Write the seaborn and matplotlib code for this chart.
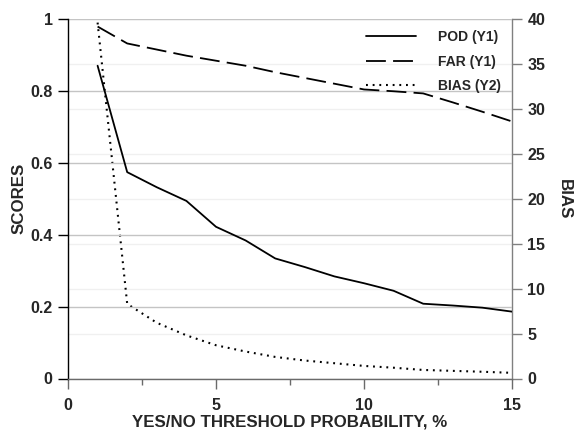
import numpy as np
import pandas as pd
import matplotlib
matplotlib.use("Agg")
import matplotlib.pyplot as plt
import seaborn as sns

# ---- data ----
threshold = [1, 2, 3, 4, 5, 6, 7, 8, 9, 10, 11, 12, 13, 14, 15]
pod = [0.870, 0.574, 0.532, 0.494, 0.422, 0.384, 0.334, 0.310, 0.284, 0.265,
       0.244, 0.208, 0.203, 0.197, 0.186]
far = [0.979, 0.932, 0.915, 0.898, 0.884, 0.870, 0.852, 0.836, 0.820, 0.804,
       0.799, 0.793, 0.768, 0.742, 0.715]
bias = [39.6, 8.3, 6.2, 4.8, 3.7, 3.0, 2.4, 2.0, 1.7, 1.4, 1.2, 0.95, 0.85, 0.75, 0.63]

x_ticks = [0, 5, 10, 15]
y1_ticks = [0, 0.2, 0.4, 0.6, 0.8, 1.0]
y1_labels = ["0", "0.2", "0.4", "0.6", "0.8", "1"]
y2_ticks = [0, 5, 10, 15, 20, 25, 30, 35, 40]

df = pd.DataFrame({"x": threshold, "POD": pod, "FAR": far, "BIAS": bias})

sns.set_style("white")
plt.rcParams["font.family"] = ["Liberation Sans", "DejaVu Sans"]
plt.rcParams["font.weight"] = "bold"

fig = plt.figure(figsize=(5.76, 4.33), dpi=100)
ax = fig.add_axes([68/576, 1-378.5/433, (512-68)/576, (378.5-19)/433])
ax2 = ax.twinx()
ax.set_zorder(ax2.get_zorder() + 1)
ax.patch.set_visible(False)

lw = 1.3
sns.lineplot(data=df, x="x", y="POD", ax=ax, color="black", lw=lw,
             label="POD (Y1)", legend=False)
sns.lineplot(data=df, x="x", y="FAR", ax=ax, color="black", lw=lw,
             label="FAR (Y1)", legend=False)
ax.lines[1].set_dashes((11, 4))
sns.lineplot(data=df, x="x", y="BIAS", ax=ax2, color="black", lw=1.5,
             label="BIAS (Y2)", legend=False)
ax2.lines[0].set_dashes((0.9, 2.3))

ax.set_xlim(0, 15)
ax.set_ylim(0, 1)
ax2.set_ylim(0, 40)

ax.set_xticks(x_ticks)
ax.set_xticks([2.5, 7.5, 12.5], minor=True)
ax.set_yticks(y1_ticks)
ax.set_yticklabels(y1_labels)
ax2.set_yticks(y2_ticks)

# grids
ax.yaxis.grid(True, color="#c4c4c4", lw=1.0)
ax.xaxis.grid(False)
ax2.yaxis.grid(True, color="#f0f0f0", lw=1.0)
ax2.xaxis.grid(False)

# spines
for a in (ax, ax2):
    a.spines["top"].set_visible(False)
ax.spines["left"].set_color("black")
ax.spines["left"].set_linewidth(1.0)
ax.spines["right"].set_visible(False)
ax.spines["bottom"].set_color("#6a6a6a")
ax.spines["bottom"].set_linewidth(1.0)
ax2.spines["left"].set_visible(False)
ax2.spines["bottom"].set_visible(False)
ax2.spines["right"].set_color("#808080")
ax2.spines["right"].set_linewidth(1.0)

ax.tick_params(axis="y", which="major", left=True, direction="out", length=7,
               width=1.0, color="black", labelsize=11.5, pad=4)
ax.tick_params(axis="x", which="major", bottom=True, direction="out", length=7,
               width=1.0, color="#6a6a6a", labelsize=11.5, pad=7)
ax.tick_params(axis="x", which="minor", bottom=True, direction="out", length=4,
               width=1.0, color="#6a6a6a")
ax2.tick_params(axis="y", right=True, direction="out", length=7, width=1.0,
                color="#808080", labelsize=11.5, pad=4)
for lab in ax.get_xticklabels() + ax.get_yticklabels() + ax2.get_yticklabels():
    lab.set_fontweight("bold")

ax.set_xlabel("YES/NO THRESHOLD PROBABILITY, %", fontsize=12.2, fontweight="bold", labelpad=1)
ax.set_ylabel("SCORES", fontsize=12.2, fontweight="bold", labelpad=2.5)
ax2.set_ylabel("BIAS", fontsize=12.2, fontweight="bold", rotation=270, labelpad=19)

handles = ax.lines[:2] + ax2.lines[:1]
labels = ["POD (Y1)", "FAR (Y1)", "BIAS (Y2)"]
leg = ax.legend(handles, labels, loc="upper right", bbox_to_anchor=(1.0, 1.0),
                frameon=False, prop={"weight": "bold", "size": 10},
                handlelength=3.6, handletextpad=1.6, labelspacing=0.75,
                borderaxespad=0.4)

fig.savefig("out.png", dpi=100)
